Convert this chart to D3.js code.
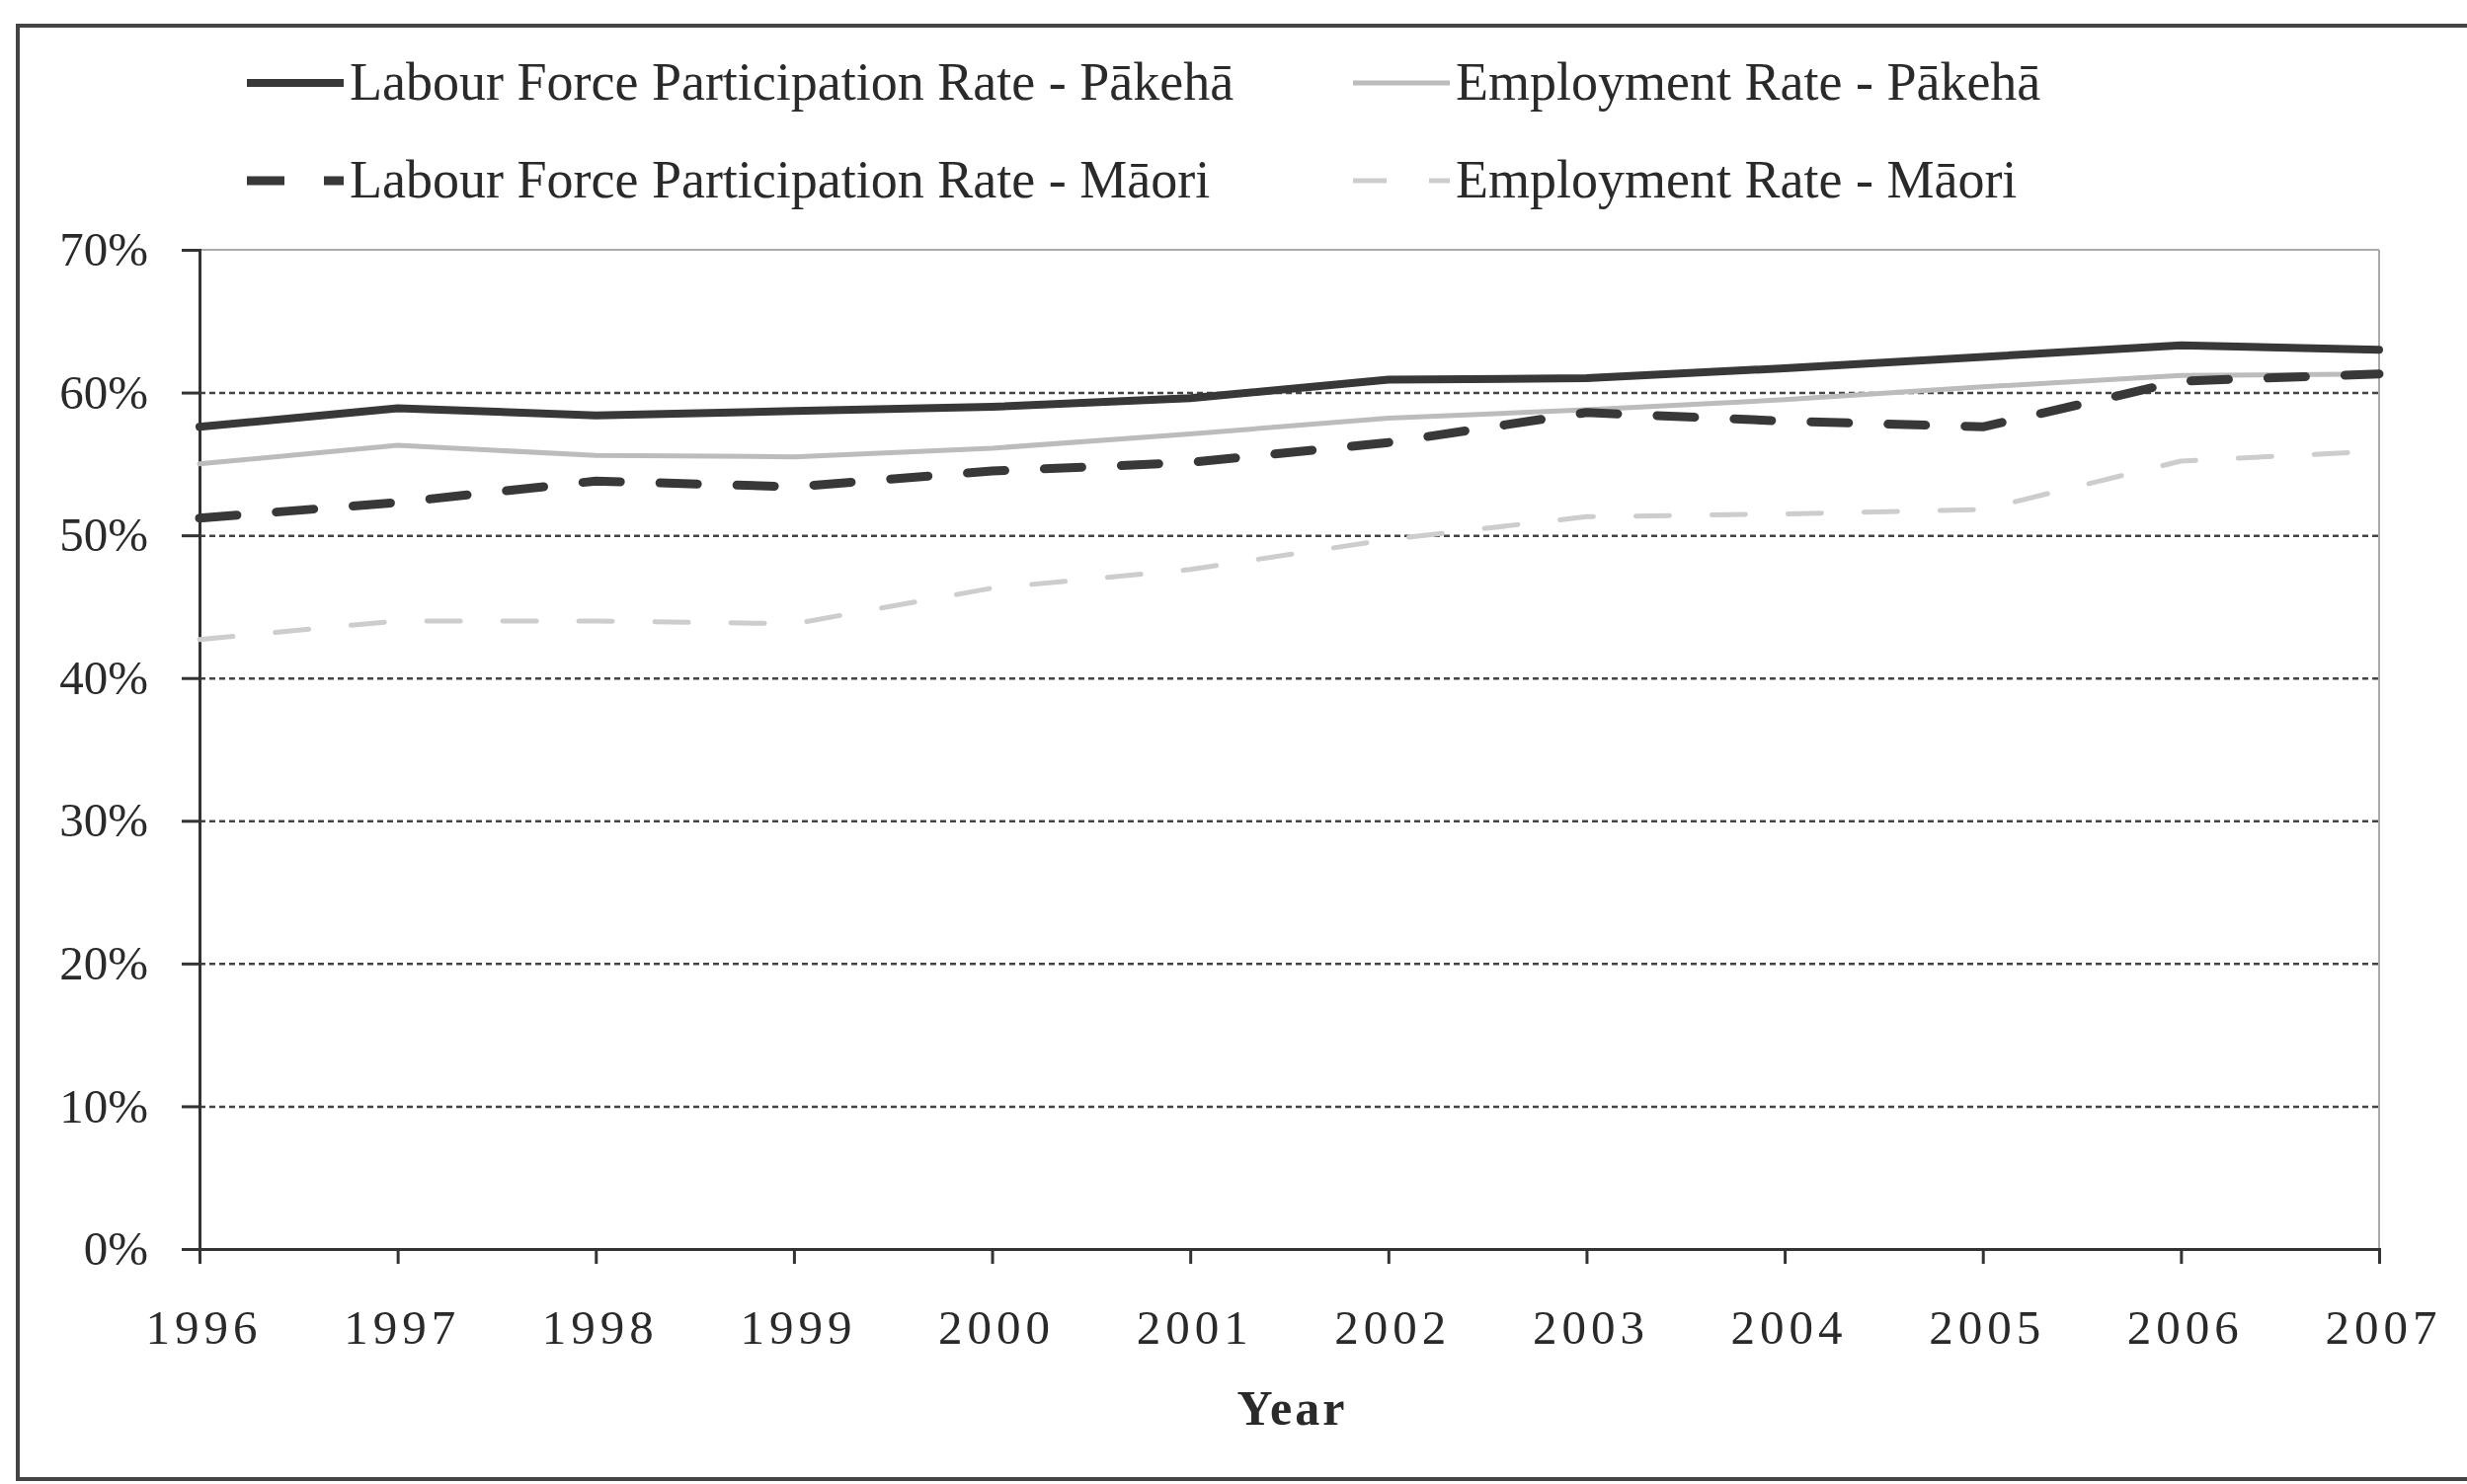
<!DOCTYPE html>
<html>
<head>
<meta charset="utf-8">
<script src="https://cdn.jsdelivr.net/npm/d3@7"></script>
<style>
  html, body { margin: 0; padding: 0; background: #fff; }
  svg { display: block; }
  text { font-family: "Liberation Serif", "Times New Roman", serif; fill: #2a2a2a; }
</style>
</head>
<body>
<svg id="chart" width="2498" height="1503"></svg>
<script>
// ---- Data ----
const years = [1996, 1997, 1998, 1999, 2000, 2001, 2002, 2003, 2004, 2005, 2006, 2007];
const lfprPakeha = [57.6, 58.9, 58.4, 58.7, 59.0, 59.6, 60.9, 61.0, 61.7, 62.5, 63.3, 63.0];
const empPakeha  = [55.0, 56.3, 55.6, 55.5, 56.1, 57.1, 58.2, 58.8, 59.5, 60.4, 61.2, 61.3];
const lfprMaori  = [51.2, 52.3, 53.8, 53.4, 54.5, 55.1, 56.5, 58.6, 58.0, 57.6, 60.8, 61.3];
const empMaori   = [42.7, 44.0, 44.0, 43.8, 46.3, 47.6, 49.7, 51.3, 51.5, 51.8, 55.2, 55.9];
const yTicks = [0, 10, 20, 30, 40, 50, 60, 70];
const seriesNames = [
  "Labour Force Participation Rate - Pākehā",
  "Employment Rate - Pākehā",
  "Labour Force Participation Rate - Māori",
  "Employment Rate - Māori"
];
const xTitle = "Year";

// ---- Styles ----
const styles = [
  { color: "#383838", width: 8, dash: null },
  { color: "#bcbcbc", width: 5, dash: null },
  { color: "#383838", width: 9, dash: "38 40" },
  { color: "#cdcdcd", width: 5, dash: "34 43" }
];
const seriesData = [lfprPakeha, empPakeha, lfprMaori, empMaori];

const svg = d3.select("#chart");

// Outer frame
svg.append("rect")
  .attr("x", 18).attr("y", 26).attr("width", 2540).attr("height", 1472)
  .attr("fill", "none").attr("stroke", "#444").attr("stroke-width", 4);

// Scales
const x = d3.scaleLinear().domain([1996, 2007]).range([202, 2409]);
const y = d3.scaleLinear().domain([0, 70]).range([1265, 253]);

// Gridlines
svg.append("g")
  .attr("transform", `translate(${x(1996)},0)`)
  .call(d3.axisLeft(y).tickValues(yTicks.filter(d => d > 0 && d < 70))
    .tickSize(-(x(2007) - x(1996))).tickFormat(""))
  .call(g => g.select(".domain").remove())
  .call(g => g.selectAll("line")
    .attr("stroke", "#444").attr("stroke-width", 2.5).attr("stroke-dasharray", "6 4"));

// Plot area top & right border (light)
svg.append("line")
  .attr("x1", x(1996)).attr("x2", x(2007)).attr("y1", y(70)).attr("y2", y(70))
  .attr("stroke", "#aaa").attr("stroke-width", 2);
svg.append("line")
  .attr("x1", x(2007)).attr("x2", x(2007)).attr("y1", y(70)).attr("y2", y(0))
  .attr("stroke", "#aaa").attr("stroke-width", 2);

// Y axis
const yAxis = svg.append("g")
  .attr("transform", `translate(${x(1996)},0)`)
  .call(d3.axisLeft(y).tickValues(yTicks).tickSize(18).tickPadding(34)
    .tickFormat(d => d + "%"));
yAxis.select(".domain").attr("stroke", "#333").attr("stroke-width", 3);
yAxis.selectAll(".tick line").attr("stroke", "#333").attr("stroke-width", 3);
yAxis.selectAll(".tick text")
  .style("font-family", '"Liberation Serif", serif')
  .attr("font-size", 49).attr("fill", "#2a2a2a");

// X axis
const xAxis = svg.append("g")
  .attr("transform", `translate(0,${y(0)})`)
  .call(d3.axisBottom(x).tickValues(years).tickSize(15).tickPadding(46)
    .tickFormat(d3.format("d")));
xAxis.select(".domain").attr("stroke", "#333").attr("stroke-width", 3);
xAxis.selectAll(".tick line").attr("stroke", "#333").attr("stroke-width", 3);
xAxis.selectAll(".tick text")
  .style("font-family", '"Liberation Serif", serif')
  .attr("font-size", 49).attr("fill", "#2a2a2a")
  .attr("letter-spacing", 5)
  .attr("dx", 4);

// X title
svg.append("text")
  .attr("x", (x(1996) + x(2007)) / 2 + 3).attr("y", 1443)
  .attr("text-anchor", "middle")
  .attr("font-size", 50).attr("font-weight", "bold")
  .attr("letter-spacing", 3)
  .text(xTitle);

// Lines
const line = d3.line().x((d, i) => x(years[i])).y(d => y(d));
[3, 1, 2, 0].forEach(k => {
  const s = styles[k];
  svg.append("path")
    .datum(seriesData[k])
    .attr("d", line)
    .attr("fill", "none")
    .attr("stroke", s.color)
    .attr("stroke-width", s.width)
    .attr("stroke-linecap", "round")
    .attr("stroke-linejoin", "round")
    .attr("stroke-dasharray", s.dash);
});

// Legend
const legendPos = [
  { x: 250, y: 84 },
  { x: 1370, y: 84 },
  { x: 250, y: 183 },
  { x: 1370, y: 183 }
];
seriesNames.forEach((name, k) => {
  const p = legendPos[k];
  const s = styles[k];
  svg.append("line")
    .attr("x1", p.x).attr("x2", p.x + 98).attr("y1", p.y).attr("y2", p.y)
    .attr("stroke", s.color).attr("stroke-width", s.width)
    .attr("stroke-dasharray", s.dash)
    .attr("stroke-linecap", "butt");
  svg.append("text")
    .attr("x", p.x + 104).attr("y", p.y + 17)
    .attr("font-size", 54)
    .attr("fill", "#2a2a2a")
    .text(name);
});
</script>
</body>
</html>
